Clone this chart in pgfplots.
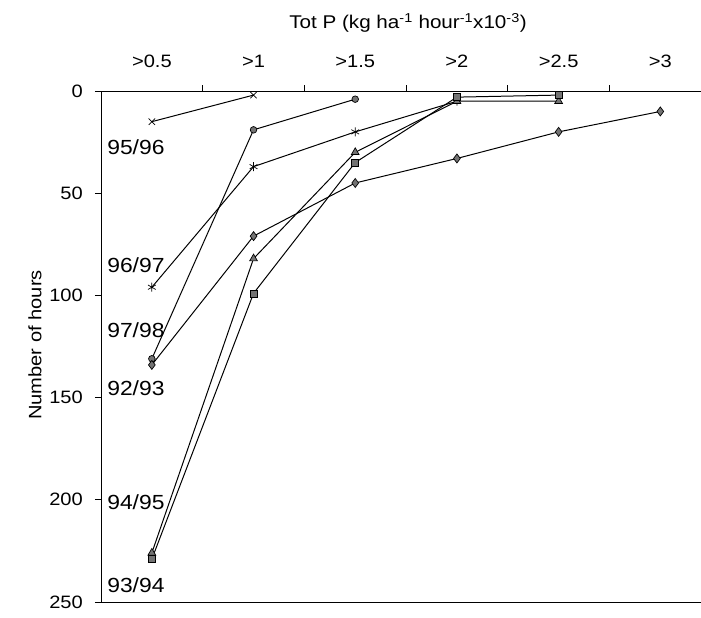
\documentclass[border=0pt]{standalone}
\usepackage{fontspec}
\setmainfont{Liberation Sans}[FakeStretch=1.12]
\usepackage{pgfplots}
\pgfplotsset{compat=1.18}

\pgfplotsset{
  ser/.style={black, solid, line width=1pt,
    mark options={solid, fill=black!55, draw=black, line width=0.7pt}},
}
\newcommand{\lab}{\fontsize{20.5}{23}\selectfont}

\begin{document}
\begin{tikzpicture}
\begin{axis}[
  scale only axis, width=600bp, height=511bp,
  xmin=-0.5, xmax=5.4, ymin=0, ymax=250, y dir=reverse,
  axis x line*=top, axis y line*=left,
  axis line style={black, line width=0.9pt},
  tick align=outside, major tick length=6bp,
  tick style={black, line width=0.9pt},
  xtick={0.5,1.5,2.5,3.5,4.5}, xticklabels={},
  extra x ticks={0,1,2,3,4,5},
  extra x tick labels={>0.5,>1,>1.5,>2,>2.5,>3},
  extra x tick style={major tick length=0pt},
  xticklabel style={font=\fontsize{18}{20}\selectfont, anchor=base, inner sep=0pt, yshift=24bp},
  ytick={0,50,100,150,200,250},
  yticklabel style={font=\fontsize{18}{20}\selectfont, anchor=east, inner sep=0pt, xshift=-12bp},
  /pgf/number format/assume math mode=true,
  clip=false,
]
\draw[black, line width=0.9pt] (axis cs:-0.5,250) -- (axis cs:5.4,250);

% 95/96
\addplot[ser, mark=x, mark size=4.5bp] coordinates {(0,15) (1,2)};
% 97/98
\addplot[ser, mark=*, mark size=3.3bp] coordinates {(0,131) (1,19) (2,4)};
% 96/97
\addplot[ser, mark=asterisk, mark size=4.5bp] coordinates {(0,96) (1,37) (2,20) (3,5)};
% 92/93
\addplot[ser, mark=diamond*, mark size=4.5bp] coordinates {(0,134) (1,71) (2,45) (3,33) (4,20) (5,10)};
% 94/95
\addplot[ser, mark=triangle*, mark size=4.5bp] coordinates {(0,226) (1,82) (2,30) (3,5) (4,5)};
% 93/94
\addplot[ser, mark=square*, mark size=3.5bp] coordinates {(0,229) (1,99) (2,35) (3,3) (4,2)};

\node[anchor=west, font=\lab, inner sep=0pt] at (axis cs:-0.44,27.4) {95/96};
\node[anchor=west, font=\lab, inner sep=0pt] at (axis cs:-0.44,85.1) {96/97};
\node[anchor=west, font=\lab, inner sep=0pt] at (axis cs:-0.44,116.9) {97/98};
\node[anchor=west, font=\lab, inner sep=0pt] at (axis cs:-0.44,145.3) {92/93};
\node[anchor=west, font=\lab, inner sep=0pt] at (axis cs:-0.44,201.1) {94/95};
\node[anchor=west, font=\lab, inner sep=0pt] at (axis cs:-0.44,241.7) {93/94};
\end{axis}
\node[anchor=base, font=\fontsize{18.5}{21}\selectfont] at (307bp,573bp)
  {Tot P (kg ha\textsuperscript{-1} hour\textsuperscript{-1}x10\textsuperscript{-3})};
\node[rotate=90, anchor=center, font=\fontsize{18}{21}\selectfont] at (-66bp,257bp) {Number of hours};
\pgfresetboundingbox
\path (-101bp,-16bp) rectangle (600bp,602bp);
\end{tikzpicture}
\end{document}
